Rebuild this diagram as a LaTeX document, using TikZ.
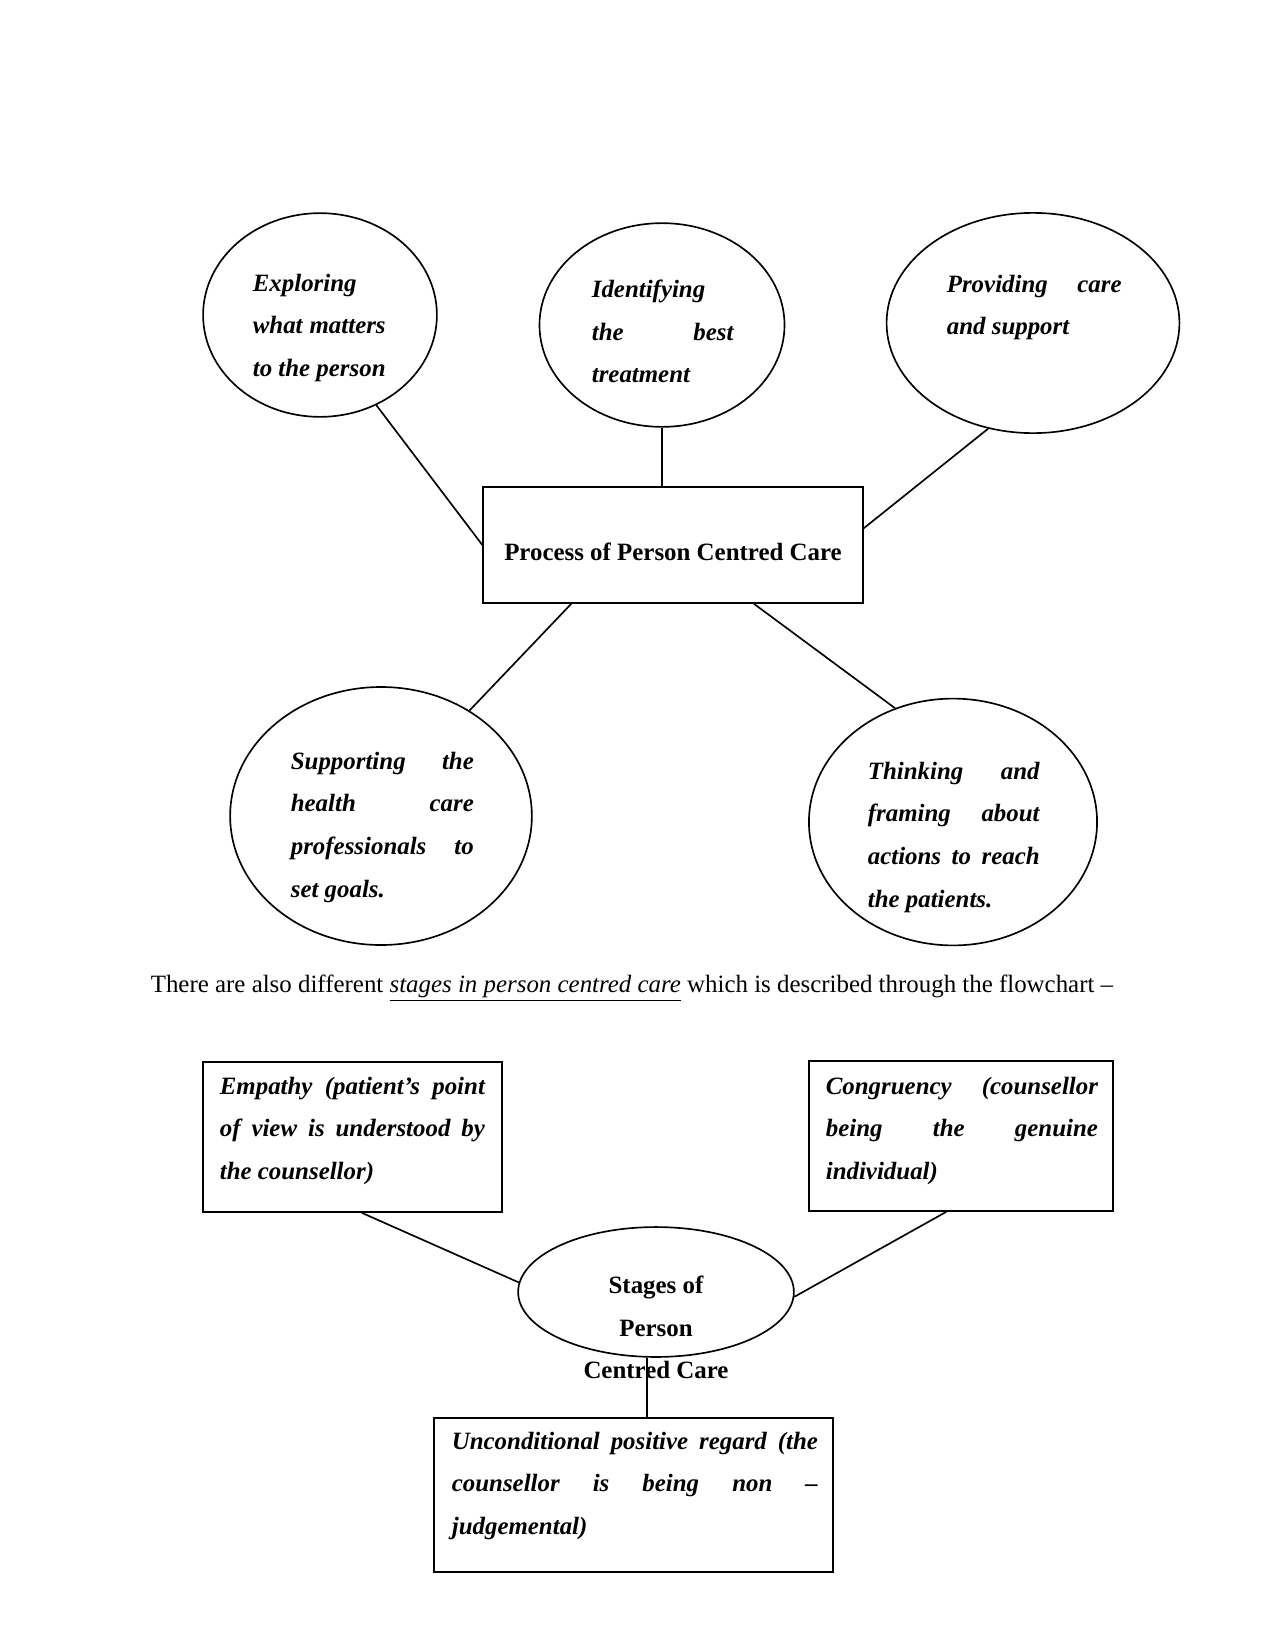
\documentclass[tikz,border=0pt]{standalone}
\usepackage{fontspec}
\setmainfont{Liberation Serif}
\usetikzlibrary{shapes.geometric}

\begin{document}
\begin{tikzpicture}[x=0.016933cm, y=-0.016933cm, line width=0.8pt,
    bub/.style={draw, ellipse, inner sep=0pt},
    box/.style={draw, rectangle, inner sep=0pt},
    txt/.style={anchor=north west, inner sep=0pt, align=justify,
                font=\fontsize{12}{20.6}\selectfont\bfseries\itshape},
    ttl/.style={font=\fontsize{12}{20.6}\selectfont\bfseries}
  ]
  \useasboundingbox (0,0) rectangle (1275,1650);

  % process of person centred care
  \node[box, ttl, text height=15pt, minimum width=6.43cm, minimum height=1.96cm] (proc) at (673,545) {Process of Person Centred Care};

  \node[bub, minimum width=3.96cm, minimum height=3.45cm] (e1) at (320,315) {};
  \node[txt, text width=2.25cm] (t1) at (252,273) {Exploring\\ what\hfill matters\\ to\hfill the\hfill person};

  \node[bub, minimum width=4.15cm, minimum height=3.45cm] (e2) at (662,325) {};
  \node[txt, text width=2.40cm] (t2) at (591,279) {Identifying\\ the\hfill best\\ treatment};

  \node[bub, minimum width=4.96cm, minimum height=3.73cm] (e3) at (1033,323) {};
  \node[txt, text width=2.96cm] (t3) at (946,274) {Providing\hfill care\\ and support};

  \node[bub, minimum width=5.11cm, minimum height=4.37cm] (e4) at (381,816) {};
  \node[txt, text width=3.10cm] (t4) at (290,751) {Supporting\hfill the\\ health\hfill care\\ professionals\hfill to\\ set goals.};

  \node[bub, minimum width=4.88cm, minimum height=4.18cm] (e5) at (953,822) {};
  \node[txt, text width=2.91cm] (t5) at (867,761) {Thinking\hfill and\\ framing\hfill about\\ actions\hfill to\hfill reach\\ the patients.};

  \draw (e1.-58) -- (proc.west);
  \draw (e2.south) -- (e2.south |- proc.north);
  \draw (e3.-113) -- (proc.5);
  \draw (proc.-150) -- (e4.50);
  \draw (proc.-36) -- (e5.117);

  \node[anchor=base west, inner sep=0pt, font=\fontsize{12}{14}\selectfont] (line) at (150,992)
    {There are also different \underline{\textit{stages in person centred care}} which is described through the flowchart --};

  % stages in person centred care
  \node[bub, minimum width=4.67cm, minimum height=2.20cm] (st) at (656,1292) {};
  \node[ttl, anchor=north, inner sep=0pt, align=center] (stt) at (656,1275) {Stages of\\ Person\\ Centred Care};

  \node[box, minimum width=5.06cm, minimum height=2.54cm] (emp) at (352.5,1137) {};
  \node[txt, text width=4.49cm] (temp) at (219,1076) {Empathy\hfill (patient’s\hfill point\\ of\hfill view\hfill is\hfill understood\hfill by\\ the counsellor)};

  \node[box, minimum width=5.15cm, minimum height=2.54cm] (con) at (961,1136) {};
  \node[txt, text width=4.61cm] (tcon) at (825,1076) {Congruency\hfill (counsellor\\ being\hfill the\hfill genuine\\ individual)};

  \node[box, minimum width=6.76cm, minimum height=2.61cm] (unc) at (633.5,1495) {};
  \node[txt, text width=6.20cm] (tunc) at (451,1431) {Unconditional\hfill positive\hfill regard\hfill (the\\ counsellor\hfill is\hfill being\hfill non\hfill --\\ judgemental)};

  \draw (emp.-83) -- (st.176);
  \draw (con.-101) -- (st.-2);
  \draw (st.-98) -- (st.-98 |- unc.north);
\end{tikzpicture}
\end{document}
